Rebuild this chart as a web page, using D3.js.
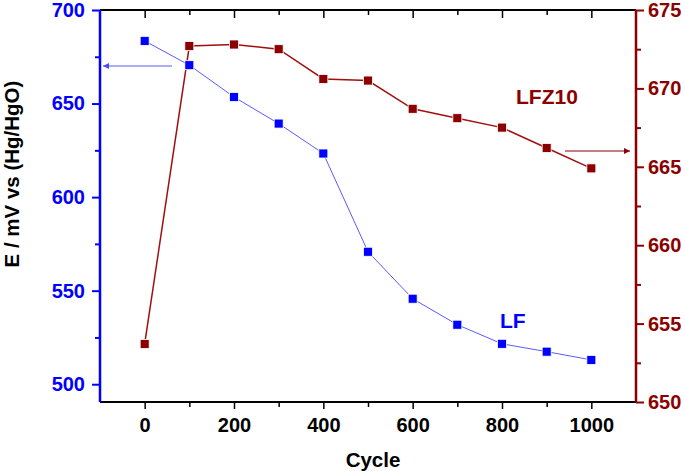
<!DOCTYPE html>
<html><head><meta charset="utf-8">
<script src="https://cdn.jsdelivr.net/npm/d3@7"></script>
<style>body{margin:0;background:#fff}svg{font-family:"Liberation Sans",Arial,sans-serif;font-weight:bold}</style>
</head><body>
<svg id="c" width="685" height="473"></svg>
<script>
const cycles = [0,100,200,300,400,500,600,700,800,900,1000];
const lfValues = [683.5,670.5,653.5,639.3,623.3,570.8,545.7,531.8,521.6,517.4,513.0];
const lfz10Values = [653.7,672.7,672.8,672.5,670.6,670.5,668.7,668.1,667.5,666.2,664.9];
const xTicks = [0,200,400,600,800,1000];
const leftTicks = [500,550,600,650,700];
const rightTicks = [650,655,660,665,670,675];

const blue = "#0000ff", red = "#8b0000";
const svg = d3.select("#c");
const L=100,R=636,T=10,B=402;
const x = d3.scaleLinear().domain([-100,1100]).range([L,R]);
const yL = d3.scaleLinear().domain([490.5,700]).range([B,T]);
const yR = d3.scaleLinear().domain([650,675]).range([B,T]);
const FS = 20;

// bottom axis
const gB = svg.append("g").attr("transform",`translate(0,${B})`)
  .call(d3.axisBottom(x).tickValues(d3.range(-100,1101,100)).tickSize(7).tickFormat(d=>xTicks.includes(d)?d:""));
gB.selectAll(".tick line").attr("y2",d=>xTicks.includes(d)?7:5);
gB.selectAll(".tick").filter(d=>d===-100||d===1100).select("line").remove();
// top axis
const gT = svg.append("g").attr("transform",`translate(0,${T})`)
  .call(d3.axisBottom(x).tickValues(d3.range(0,1001,100)).tickSize(7).tickFormat(""));
gT.selectAll(".tick line").attr("y2",d=>xTicks.includes(d)?8:5);
[gB,gT].forEach(g=>{g.select(".domain").attr("stroke","#000").attr("stroke-width",2).attr("d",`M${L},0H${R}`);
  g.selectAll(".tick line").attr("stroke","#000").attr("stroke-width",1.5);
  g.selectAll("text").attr("fill","#000").attr("font-size",FS).attr("font-weight","bold").attr("y",10).attr("dy","20px").attr("font-family","Liberation Sans, Arial");});

// left axis
const gL = svg.append("g").attr("transform",`translate(${L},0)`)
  .call(d3.axisLeft(yL).tickValues(d3.range(500,701,25)).tickSize(8).tickPadding(7).tickFormat(d=>leftTicks.includes(d)?d:""));
gL.selectAll(".tick line").attr("x2",d=>leftTicks.includes(d)?-8:-5);
gL.select(".domain").attr("d",`M0,${B}V${T}`).attr("stroke",blue).attr("stroke-width",2.5);
gL.selectAll(".tick line").attr("stroke",blue).attr("stroke-width",2);
gL.selectAll("text").attr("fill",blue).attr("font-size",FS).attr("font-weight","bold").attr("font-family","Liberation Sans, Arial");

// right axis
const gR = svg.append("g").attr("transform",`translate(${R},0)`)
  .call(d3.axisRight(yR).tickValues(d3.range(650,675.1,2.5)).tickSize(8).tickPadding(4).tickFormat(d=>rightTicks.includes(d)?d:""));
gR.selectAll(".tick line").attr("x2",d=>rightTicks.includes(d)?8:5);
gR.select(".domain").attr("d",`M0,${B}V${T}`).attr("stroke",red).attr("stroke-width",2.5);
gR.selectAll(".tick line").attr("stroke",red).attr("stroke-width",2);
gR.selectAll("text").attr("fill",red).attr("font-size",FS).attr("font-weight","bold").attr("font-family","Liberation Sans, Arial");

// lines
const lfLine = d3.line().x((d,i)=>x(cycles[i])).y(d=>yL(d));
const rLine = d3.line().x((d,i)=>x(cycles[i])).y(d=>yR(d));
svg.append("path").attr("d",lfLine(lfValues)).attr("fill","none").attr("stroke","#5a5aff").attr("stroke-width",1);
svg.append("path").attr("d",rLine(lfz10Values)).attr("fill","none").attr("stroke","#a01010").attr("stroke-width",1.5);
const s=9;
svg.append("g").selectAll("rect").data(lfz10Values).join("rect")
  .attr("x",(d,i)=>x(cycles[i])-s/2).attr("y",d=>yR(d)-s/2).attr("width",s).attr("height",s)
  .attr("fill",red).attr("stroke","#fff").attr("stroke-width",0.8);
svg.append("g").selectAll("rect").data(lfValues).join("rect")
  .attr("x",(d,i)=>x(cycles[i])-s/2).attr("y",d=>yL(d)-s/2).attr("width",s).attr("height",s)
  .attr("fill",blue).attr("stroke","#fff").attr("stroke-width",0.8);

// arrows
const defs = svg.append("defs");
function marker(id,col){defs.append("marker").attr("id",id).attr("viewBox","0 0 10 10").attr("refX",10).attr("refY",5)
  .attr("markerWidth",10).attr("markerHeight",6).attr("markerUnits","userSpaceOnUse").attr("orient","auto")
  .append("path").attr("d","M0,0L10,5L0,10Z").attr("fill",col);}
marker("ab","#4a4aff"); marker("ar",red);
svg.append("line").attr("x1",172).attr("y1",66).attr("x2",103).attr("y2",66).attr("stroke","#5a5aff").attr("stroke-width",1.2).attr("marker-end","url(#ab)");
svg.append("line").attr("x1",565).attr("y1",151).attr("x2",630).attr("y2",151).attr("stroke",red).attr("stroke-width",1.2).attr("marker-end","url(#ar)");

// labels
svg.append("text").attr("x",516).attr("y",104).attr("fill",red).attr("font-size",21).text("LFZ10");
svg.append("text").attr("x",500).attr("y",328).attr("fill",blue).attr("font-size",21).text("LF");
svg.append("text").attr("x",373).attr("y",467).attr("text-anchor","middle").attr("fill","#000").attr("font-size",20.5).text("Cycle");
svg.append("text").attr("transform","translate(19,174) rotate(-90)").attr("text-anchor","middle").attr("fill","#000").attr("font-size",20.5).text("E / mV vs (Hg/HgO)");
</script>
</body></html>
